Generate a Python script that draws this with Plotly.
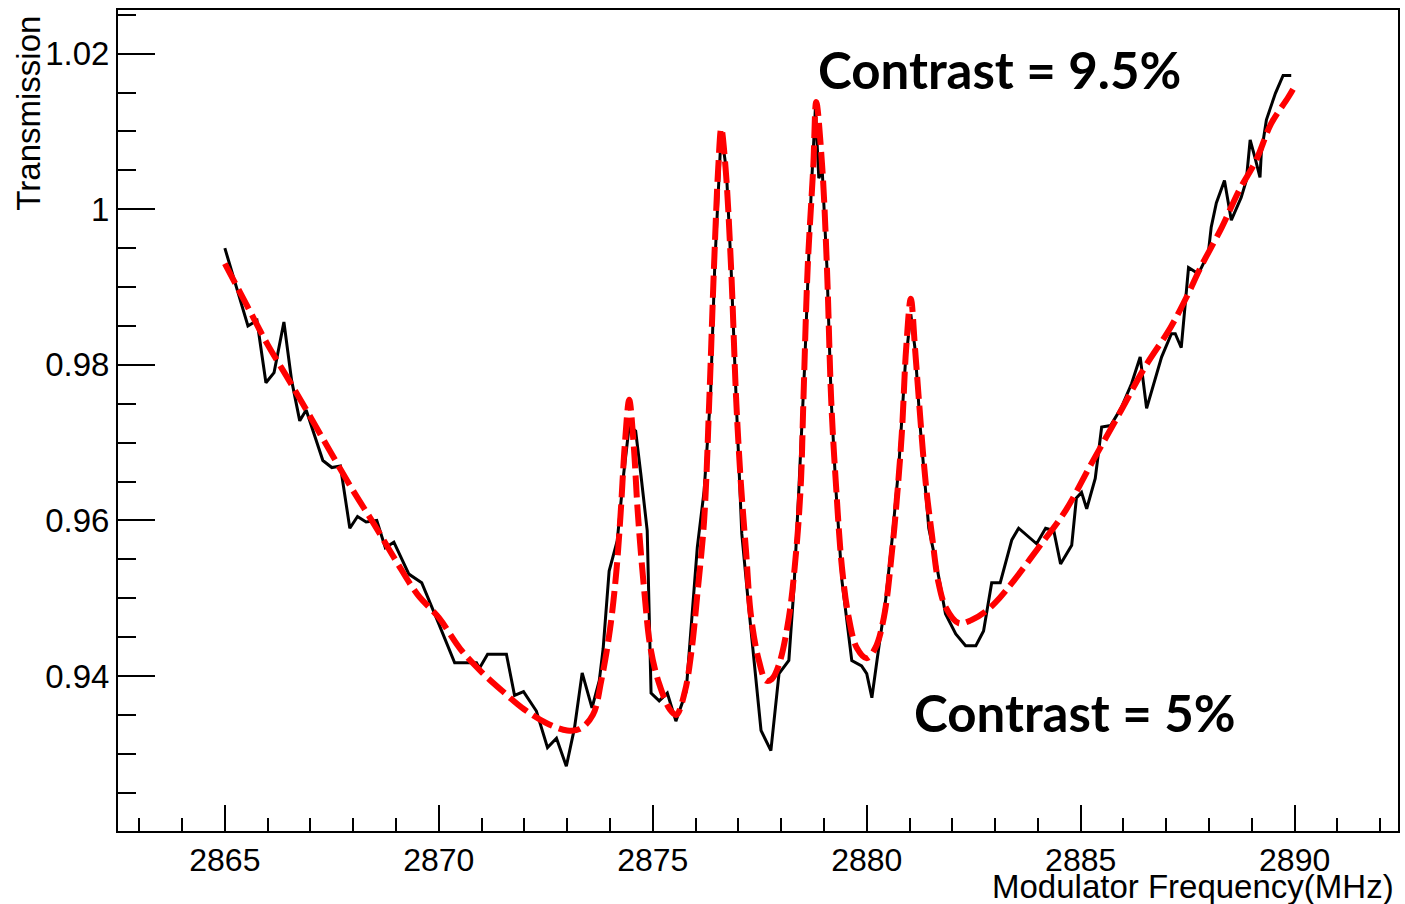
import plotly.graph_objects as go

# Measured data (black line)
freq_data = [2865.0, 2865.3, 2865.54, 2865.75, 2865.96, 2866.15, 2866.38, 2866.56, 2866.75, 2866.9,
             2867.29, 2867.5, 2867.7, 2867.92, 2868.1, 2868.3, 2868.55, 2868.75, 2868.95, 2869.3,
             2869.6, 2870.0, 2870.37, 2870.88, 2870.95, 2871.14, 2871.58, 2871.77, 2871.98, 2872.28,
             2872.54, 2872.75, 2872.98, 2873.17, 2873.35, 2873.58, 2873.75, 2873.84, 2873.98, 2874.17,
             2874.32, 2874.45, 2874.6, 2874.72, 2874.87, 2874.96, 2875.15, 2875.34, 2875.54, 2875.78,
             2876.04, 2876.2, 2876.35, 2876.45, 2876.6, 2876.72, 2876.83, 2876.95, 2877.08, 2877.25,
             2877.37, 2877.53, 2877.76, 2877.95, 2878.18, 2878.3, 2878.42, 2878.55, 2878.7, 2878.8,
             2878.88, 2878.96, 2879.07, 2879.17, 2879.28, 2879.42, 2879.65, 2879.88, 2880.0, 2880.12,
             2880.28, 2880.44, 2880.59, 2880.75, 2880.9, 2881.03, 2881.13, 2881.25, 2881.45, 2881.64,
             2881.84, 2882.08, 2882.31, 2882.55, 2882.73, 2882.92, 2883.12, 2883.39, 2883.55, 2883.97,
             2884.18, 2884.37, 2884.53, 2884.79, 2884.9, 2885.02, 2885.14, 2885.34, 2885.49, 2885.7,
             2885.95, 2886.19, 2886.39, 2886.54, 2886.89, 2887.12, 2887.21, 2887.35, 2887.52, 2887.75,
             2887.98, 2888.05, 2888.17, 2888.36, 2888.52, 2888.75, 2888.87, 2888.96, 2889.07, 2889.19,
             2889.22, 2889.34, 2889.55, 2889.73, 2889.92]
trans_data = [0.9950, 0.9896, 0.9850, 0.9857, 0.9777, 0.9790, 0.9855, 0.9780, 0.9728, 0.9742,
              0.9677, 0.9668, 0.9670, 0.9590, 0.9605, 0.9598, 0.9600, 0.9565, 0.9572, 0.9531,
              0.9520, 0.9467, 0.9417, 0.9417, 0.9410, 0.9428, 0.9428, 0.9375, 0.9380, 0.9355,
              0.9308, 0.9320, 0.9284, 0.9333, 0.9404, 0.9359, 0.9394, 0.9435, 0.9535, 0.9574,
              0.9660, 0.9722, 0.9715, 0.9660, 0.9587, 0.9378, 0.9368, 0.9378, 0.9342, 0.9380,
              0.9565, 0.9638, 0.9760, 0.9930, 1.0100, 1.0050, 0.9925, 0.9754, 0.9583, 0.9484,
              0.9420, 0.9330, 0.9304, 0.9403, 0.9420, 0.9514, 0.9647, 0.9800, 1.0020, 1.0130,
              1.0040, 1.0050, 0.9925, 0.9754, 0.9640, 0.9523, 0.9420, 0.9413, 0.9403, 0.9372,
              0.9436, 0.9497, 0.9574, 0.9670, 0.9800, 0.9865, 0.9820, 0.9720, 0.9590, 0.9540,
              0.9480, 0.9454, 0.9439, 0.9439, 0.9458, 0.9520, 0.9520, 0.9575, 0.9590, 0.9570,
              0.9590, 0.9587, 0.9544, 0.9568, 0.9629, 0.9636, 0.9615, 0.9654, 0.9720, 0.9722,
              0.9745, 0.9776, 0.9810, 0.9744, 0.9810, 0.9840, 0.9840, 0.9822, 0.9925, 0.9917,
              0.9943, 0.9977, 1.0008, 1.0037, 0.9986, 1.0015, 1.0037, 1.0089, 1.0067, 1.0041,
              1.0072, 1.0115, 1.0149, 1.0172, 1.0172]

# Fit (red dashed line)
freq_fit = [2865.0, 2865.5, 2866.0, 2866.5, 2867.0, 2867.5, 2868.0, 2868.5, 2869.0, 2869.5,
            2870.0, 2870.5, 2871.0, 2871.5, 2872.0, 2872.5, 2873.0, 2873.3, 2873.6, 2873.8,
            2874.0, 2874.15, 2874.25, 2874.35, 2874.45, 2874.55, 2874.65, 2874.8, 2874.95, 2875.15,
            2875.4, 2875.55, 2875.75, 2875.9, 2876.05, 2876.2, 2876.32, 2876.43, 2876.53, 2876.6,
            2876.7, 2876.83, 2876.95, 2877.06, 2877.18, 2877.3, 2877.48, 2877.65, 2877.78, 2877.95,
            2878.18, 2878.35, 2878.46, 2878.52, 2878.62, 2878.75, 2878.82, 2878.96, 2879.07, 2879.17,
            2879.28, 2879.42, 2879.58, 2879.77, 2880.0, 2880.2, 2880.4, 2880.59, 2880.7, 2880.82,
            2880.92, 2881.03, 2881.13, 2881.22, 2881.38, 2881.52, 2881.68, 2881.85, 2882.15, 2882.45,
            2882.78, 2883.1, 2883.4, 2884.0, 2884.65, 2885.25, 2885.9, 2886.5, 2887.1, 2887.5,
            2887.8, 2888.3, 2888.7, 2889.1, 2889.45, 2889.85, 2890.0]
trans_fit = [0.9930, 0.9878, 0.9826, 0.9780, 0.9733, 0.9685, 0.9638, 0.9594, 0.9548, 0.9505,
             0.9475, 0.9435, 0.9405, 0.9380, 0.9357, 0.9340, 0.9330, 0.9332, 0.9350, 0.9395,
             0.9460, 0.9535, 0.9610, 0.9700, 0.9755, 0.9700, 0.9610, 0.9510, 0.9435, 0.9390,
             0.9357, 0.9350, 0.9380, 0.9430, 0.9510, 0.9600, 0.9754, 0.9925, 1.0054, 1.0104,
             1.0054, 0.9925, 0.9754, 0.9647, 0.9560, 0.9475, 0.9420, 0.9394, 0.9396, 0.9415,
             0.9475, 0.9560, 0.9647, 0.9754, 0.9925, 1.0054, 1.0138, 1.0054, 0.9925, 0.9754,
             0.9647, 0.9540, 0.9475, 0.9436, 0.9423, 0.9436, 0.9475, 0.9560, 0.9625, 0.9712,
             0.9820, 0.9885, 0.9820, 0.9754, 0.9647, 0.9583, 0.9519, 0.9488, 0.9468, 0.9472,
             0.9483, 0.9500, 0.9520, 0.9564, 0.9613, 0.9673, 0.9737, 0.9797, 0.9848, 0.9890,
             0.9925, 0.9977, 1.0024, 1.0063, 1.0110, 1.0144, 1.0158]

y_tickvals = [0.94, 0.96, 0.98, 1.00, 1.02]
y_ticktext = ["0.94", "0.96", "0.98", "1", "1.02"]
x_tickvals = [2865, 2870, 2875, 2880, 2885, 2890]
x_ticktext = ["2865", "2870", "2875", "2880", "2885", "2890"]

FONT = "Liberation Sans, Arial, sans-serif"

fig = go.Figure()
fig.add_trace(go.Scatter(x=freq_data, y=trans_data, mode="lines",
                         line=dict(color="black", width=3), showlegend=False))
fig.add_trace(go.Scatter(x=freq_fit, y=trans_fit, mode="lines", line_shape="spline",
                         line=dict(color="#ff0000", width=6, dash="22px,7px"), showlegend=False))

fig.update_layout(
    width=1405, height=904,
    margin=dict(l=118, r=5, t=10, b=73),
    paper_bgcolor="white", plot_bgcolor="white",
    font=dict(family=FONT, color="black", size=33),
    xaxis=dict(range=[2862.503, 2892.415], showgrid=False, zeroline=False,
               showline=True, linecolor="black", linewidth=2, mirror=True,
               tickmode="array", tickvals=x_tickvals, ticktext=x_ticktext,
               ticks="inside", ticklen=26, tickwidth=1.5, tickcolor="black",
               tickfont=dict(family=FONT, size=32),
               minor=dict(dtick=1, tick0=2865, ticks="inside", ticklen=13,
                          tickwidth=1.5, tickcolor="black")),
    yaxis=dict(range=[0.92008, 1.02561], showgrid=False, zeroline=False,
               showline=True, linecolor="black", linewidth=2, mirror=True,
               tickmode="array", tickvals=y_tickvals, ticktext=y_ticktext,
               ticks="inside", ticklen=37, tickwidth=1.5, tickcolor="black",
               tickfont=dict(family=FONT, size=33),
               minor=dict(dtick=0.005, tick0=0.92, ticks="inside", ticklen=18,
                          tickwidth=1.5, tickcolor="black")),
    annotations=[
        dict(text="Transmission", xref="paper", yref="paper",
             x=(28 - 118) / 1282, y=1 - (113.5 - 10) / 821, textangle=-90,
             xanchor="center", yanchor="middle", showarrow=False,
             font=dict(family=FONT, size=33, color="black")),
        dict(text="Modulator Frequency(MHz)", xref="paper", yref="paper",
             x=(1398 - 118) / 1282, y=1 - (887 - 10) / 821, xanchor="right", yanchor="middle",
             showarrow=False, font=dict(family=FONT, size=33, color="black")),
        dict(text="<b>Contrast = 9.5%</b>", xref="x", yref="y", x=2883.1, y=1.0179,
             xanchor="center", yanchor="middle", showarrow=False,
             font=dict(family="Lato, sans-serif", size=51, color="black")),
        dict(text="<b>Contrast = 5%</b>", xref="x", yref="y", x=2884.86, y=0.9353,
             xanchor="center", yanchor="middle", showarrow=False,
             font=dict(family="Lato, sans-serif", size=51, color="black")),
    ],
)

fig.write_html("out.html")
